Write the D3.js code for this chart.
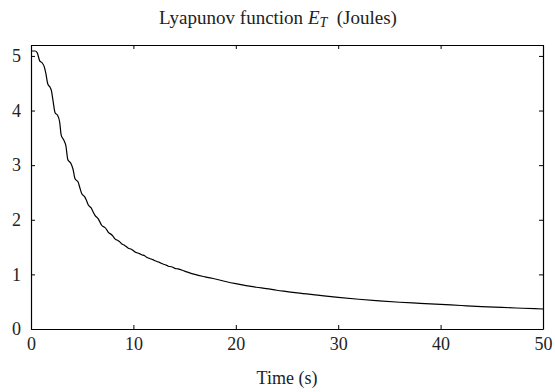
<!DOCTYPE html>
<html>
<head>
<meta charset="utf-8">
<script src="https://cdn.jsdelivr.net/npm/d3@7"></script>
<style>
    body { margin: 0; background: #fff; }
    svg text { font-family: "Liberation Serif"; fill: #222; }
</style>
</head>
<body>
<div id="chart"></div>
<script>
// ============
//   Data
// ============

// Time samples (s)
const timeValues = [
    0, 0.4, 0.6, 0.85, 1.1, 1.3, 1.45, 1.65, 1.85, 2.0, 2.15, 2.35, 2.6, 2.8, 2.95,
    3.2, 3.4, 3.6, 3.9, 4.1, 4.3, 4.6, 4.75, 4.95, 5.25, 5.4, 5.6, 5.9, 6.05, 6.25,
    6.55, 6.7, 6.9, 7.2, 7.35, 7.55, 7.85, 8.0, 8.2, 8.5, 8.65, 8.85, 9.15, 9.3, 9.5,
    9.8, 9.95, 10.15, 10.45, 10.6, 10.8, 11.1, 11.25, 11.45, 11.75, 11.9, 12.1, 12.4,
    12.55, 12.75, 13.05, 13.2, 13.4, 13.7, 13.85, 14.05, 14.35, 15, 16, 17, 18, 19,
    20, 21, 22, 23, 24, 25, 26, 28, 30, 32, 34, 36, 38, 40, 42, 44, 46, 48, 50
];

// Lyapunov function E_T (Joules)
const energyValues = [
    5.09, 5.09, 5.06, 4.91, 4.87, 4.80, 4.68, 4.48, 4.43, 4.36, 4.18, 3.96, 3.91, 3.79, 3.55,
    3.46, 3.36, 3.10, 3.03, 2.93, 2.75, 2.69, 2.60, 2.48, 2.42, 2.36, 2.27, 2.21, 2.15, 2.08,
    2.02, 1.97, 1.90, 1.86, 1.83, 1.77, 1.73, 1.70, 1.65, 1.62, 1.60, 1.56, 1.53, 1.51, 1.48,
    1.46, 1.44, 1.41, 1.39, 1.38, 1.36, 1.34, 1.32, 1.30, 1.28, 1.27, 1.25, 1.23,
    1.22, 1.20, 1.18, 1.17, 1.15, 1.14, 1.13, 1.11, 1.10, 1.06, 1.00, 0.955, 0.915, 0.87,
    0.83, 0.795, 0.765, 0.74, 0.71, 0.685, 0.66, 0.62, 0.58, 0.545, 0.515, 0.49, 0.47, 0.45, 0.43, 0.41, 0.395, 0.38, 0.366
];

const xTicks = [0, 10, 20, 30, 40, 50];
const yTicks = [0, 1, 2, 3, 4, 5];

// ============
//   Plot box
// ============

const plotWidth = 555;
const plotHeight = 392;

const margins = { top: 45, right: 12, bottom: 63, left: 31 };

const width  = plotWidth  - margins.left - margins.right;
const height = plotHeight - margins.top  - margins.bottom;

const fontFamily = "Liberation Serif";

const svg = d3.select("#chart")
    .append("svg")
        .attr("width", plotWidth)
        .attr("height", plotHeight);

const chartGroup = svg.append("g")
    .attr("transform", `translate(${margins.left}, ${margins.top})`);

// Scales
const xScale = d3.scaleLinear().domain([0, 50]).range([0, width]);
const yScale = d3.scaleLinear().domain([0, 5.2]).range([height, 0]);

// Axes (ticks pointing inwards, MATLAB-style box)
const tick = 4;
const fmt = d3.format("d");

const xAxisBottom = chartGroup.append("g")
    .attr("transform", `translate(0, ${height})`)
    .call(d3.axisBottom(xScale).tickValues(xTicks).tickFormat(fmt)
        .tickSizeInner(-tick).tickSizeOuter(0).tickPadding(8));

const xAxisTop = chartGroup.append("g")
    .call(d3.axisTop(xScale).tickValues(xTicks).tickSizeInner(-tick).tickSizeOuter(0).tickFormat(""));

const yAxisLeft = chartGroup.append("g")
    .call(d3.axisLeft(yScale).tickValues(yTicks).tickFormat(fmt)
        .tickSizeInner(-tick).tickSizeOuter(0).tickPadding(10));

const yAxisRight = chartGroup.append("g")
    .attr("transform", `translate(${width}, 0)`)
    .call(d3.axisRight(yScale).tickValues(yTicks).tickSizeInner(-tick).tickSizeOuter(0).tickFormat(""));

[xAxisBottom, xAxisTop, yAxisLeft, yAxisRight].forEach(ax => {
    ax.attr("font-family", fontFamily).attr("font-size", 18);
    ax.select(".domain").attr("stroke", "#000").attr("stroke-width", 1.2);
    ax.selectAll(".tick line").attr("stroke", "#000");
    ax.selectAll(".tick text").attr("fill", "#222");
});

// Curve
const points = timeValues.map((t, i) => ({ t: t, e: energyValues[i] }));

const line = d3.line()
    .x(d => xScale(d.t))
    .y(d => yScale(d.e))
    .curve(d3.curveMonotoneX);

chartGroup.append("path")
    .datum(points)
    .attr("fill", "none")
    .attr("stroke", "#000")
    .attr("stroke-width", 1.2)
    .attr("d", line);

// Title
const title = svg.append("text")
    .attr("x", 278)
    .attr("y", 24)
    .attr("text-anchor", "middle")
    .attr("font-size", 19);
title.append("tspan").text("Lyapunov function ");
title.append("tspan").attr("font-style", "italic").text("E");
title.append("tspan").attr("font-style", "italic").attr("font-size", 14).attr("dy", 3).text("T");
title.append("tspan").attr("dy", -3).text("\u2002(Joules)");

// X label
svg.append("text")
    .attr("x", margins.left + width / 2)
    .attr("y", 384)
    .attr("text-anchor", "middle")
    .attr("font-size", 18)
    .text("Time (s)");
</script>
</body>
</html>
